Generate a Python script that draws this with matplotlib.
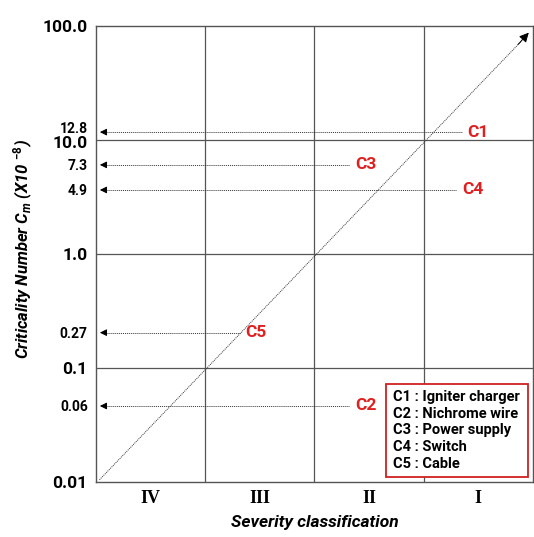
import numpy as np
import matplotlib.pyplot as plt
import matplotlib.transforms as mtransforms
from matplotlib.patches import FancyBboxPatch

plt.rcParams['font.family'] = ['Roboto', 'DejaVu Sans']
plt.rcParams['mathtext.fontset'] = 'custom'
plt.rcParams['mathtext.it'] = 'Roboto:italic:bold'
plt.rcParams['mathtext.bf'] = 'Roboto:bold'
plt.rcParams['mathtext.rm'] = 'Roboto:bold'

# severity categories (left to right)
categories = ["IV", "III", "II", "I"]
# criticality numbers of components (x10^-8)
comp_names = ["C1", "C2", "C3", "C4", "C5"]
comp_values = [12.8, 0.06, 7.3, 4.9, 0.27]
comp_xend = [3.35, 2.32, 2.32, 3.30, 1.32]
legend_lines = ["C1 : Igniter charger", "C2 : Nichrome wire", "C3 : Power supply",
                "C4 : Switch", "C5 : Cable"]
major_ticks = [0.01, 0.1, 1.0, 10.0, 100.0]
major_labels = ["0.01", "0.1", "1.0", "10.0", "100.0"]
minor_ticks = [0.06, 0.27, 4.9, 7.3, 12.8]
minor_labels = ["0.06", "0.27", "4.9", "7.3", "12.8"]


# the chart is only roughly logarithmic: inside each decade the spacing is
# half log, half linear
def fwd(y):
    y = np.clip(np.asarray(y, dtype=float), 1e-12, None)
    d = np.floor(np.log10(y) + 1e-9)
    m = y / 10.0 ** d
    return d + 0.5 * np.log10(m) + 0.5 * (m - 1) / 9


_mgrid = np.linspace(1, 10, 4001)
_ggrid = 0.5 * np.log10(_mgrid) + 0.5 * (_mgrid - 1) / 9


def inv(v):
    v = np.asarray(v, dtype=float)
    d = np.floor(v)
    m = np.interp(v - d, _ggrid, _mgrid)
    return m * 10.0 ** d


fig = plt.figure(figsize=(5.34, 5.37), dpi=100)
ax = fig.add_axes([0.1798, 0.1024, 0.818, 0.8492])
ax.set_yscale("function", functions=(fwd, inv))
ax.set_xlim(0, 4)
ax.set_ylim(0.01, 100)

for s in ax.spines.values():
    s.set_color("#555555")
    s.set_linewidth(1.0)

# grid
for gx in [1, 2, 3]:
    ax.axvline(gx, color="#555555", lw=0.9)
for gy in [0.1, 1.0, 10.0]:
    ax.axhline(gy, color="#555555", lw=0.9)

# diagonal arrow, corner to corner
ax.plot([0.008, 0.975], [0.005, 0.968], transform=ax.transAxes,
        color="#333333", lw=0.7, ls=(0, (1, 1)))
ax.annotate("", xy=(0.995, 0.99), xytext=(0.962, 0.955),
            xycoords="axes fraction", textcoords="axes fraction",
            arrowprops=dict(arrowstyle="-|>", color="black", lw=0.7,
                            mutation_scale=14))

# component arrows
for name, v, xe in zip(comp_names, comp_values, comp_xend):
    ax.plot([0.1, xe], [v, v], color="#333333", lw=0.7, ls=(0, (1, 1)))
    ax.annotate("", xy=(0.01, v), xytext=(0.12, v),
                arrowprops=dict(arrowstyle="-|>", color="black", lw=0.7,
                                mutation_scale=10))
    ax.text(xe + 0.05, v, name, color="#e02020", fontsize=12.5,
            fontweight="bold", va="center", ha="left")

# ticks
ax.set_xticks([0.5, 1.5, 2.5, 3.5])
ax.set_xticklabels(categories, family="Liberation Serif", fontweight="bold",
                   fontsize=13)
ax.set_yticks(major_ticks)
ax.set_yticklabels(major_labels, fontsize=12.5, fontweight="bold")
ax.set_yticks(minor_ticks, minor=True)
ax.set_yticklabels(minor_labels, minor=True, fontsize=10, fontweight="bold")
ax.tick_params(axis="both", which="both", length=0)
ax.tick_params(axis="y", which="both", pad=6)
ax.tick_params(axis="x", pad=6)

# keep "12.8" and "10.0" apart
down = mtransforms.ScaledTranslation(0, -2 / 100, fig.dpi_scale_trans)
up = mtransforms.ScaledTranslation(0, 5 / 100, fig.dpi_scale_trans)
for lab in ax.get_yticklabels():
    if lab.get_text() == "10.0":
        lab.set_transform(lab.get_transform() + down)
for lab in ax.get_yticklabels(minor=True):
    if lab.get_text() == "12.8":
        lab.set_transform(lab.get_transform() + up)

ax.set_xlabel("Severity classification", fontsize=12.5, fontweight="bold",
              style="italic")
ax.xaxis.set_label_coords(0.5, -0.072)
ax.set_ylabel(r"Criticality Number $C_m$ (X10 $^{\mathbf{-8}}$)",
              fontsize=12, fontweight="bold", style="italic")
ax.yaxis.set_label_coords(-0.14, 0.51)

# legend box
box = FancyBboxPatch((0.665, 0.01), 0.325, 0.205, boxstyle="square,pad=0",
                     transform=ax.transAxes, fill=True, facecolor="white",
                     edgecolor="#d02020", lw=1.3, zorder=5)
ax.add_patch(box)
for i, line in enumerate(legend_lines):
    ax.text(0.68, 0.187 - i * 0.0368, line, transform=ax.transAxes, fontsize=10.5,
            fontweight="bold", va="center", ha="left", zorder=6)

fig.savefig("out.png", dpi=100)
